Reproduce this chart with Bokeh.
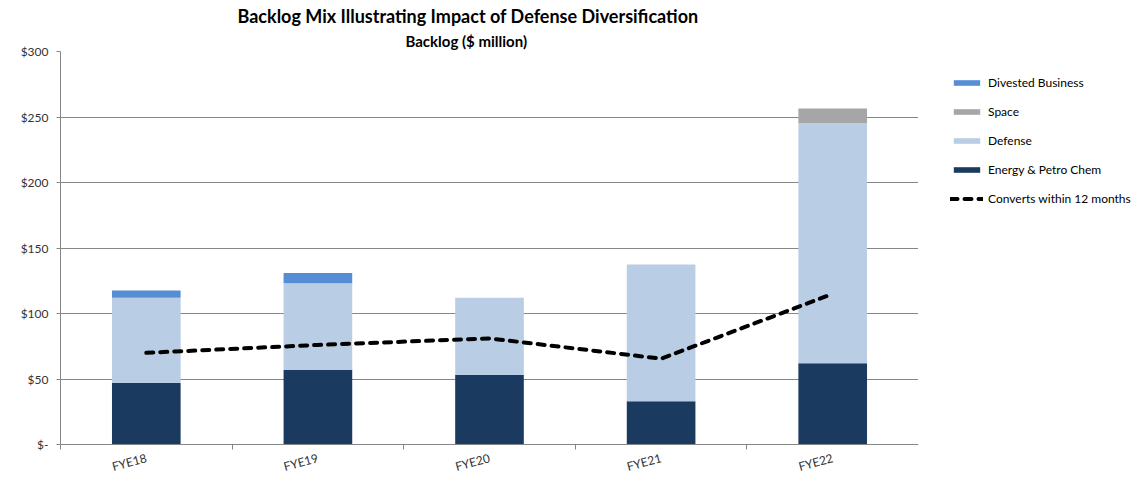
from bokeh.plotting import figure
from bokeh.layouts import row
from bokeh.models import (ColumnDataSource, FixedTicker, Range1d, Title,
                          Legend, LegendItem)
from bokeh.embed import file_html
from bokeh.resources import INLINE

categories = ["FYE18", "FYE19", "FYE20", "FYE21", "FYE22"]
energy = [47, 57, 53, 33, 62]
defense = [65, 66, 59, 104.5, 183.5]
space = [0, 0, 0, 0, 11]
divested = [5.5, 8, 0, 0, 0]
converts = [70, 76, 81, 65.5, 115]
y_ticks = [0, 50, 100, 150, 200, 250, 300]
y_tick_labels = ["$-", "$50", "$100", "$150", "$200", "$250", "$300"]
series_names = ["Energy & Petro Chem", "Defense", "Space", "Divested Business"]
series_colors = ["#1B3A5F", "#B9CDE5", "#A6A6A6", "#558ED5"]
line_name = "Converts within 12 months"

idx = list(range(len(categories)))
bounds = [i - 0.5 for i in range(len(categories) + 1)]

src = ColumnDataSource(dict(x=idx, energy=energy, defense=defense, space=space,
                            divested=divested, converts=converts))

FONT = "Lato"
TXT = "#333333"
GRID = "#868686"

p = figure(width=918, height=484, output_backend="svg", toolbar_location=None,
           x_range=Range1d(-0.5, len(categories) - 0.5), y_range=Range1d(0, 300),
           min_border_left=60, min_border_right=0, min_border_top=51, min_border_bottom=38,
           outline_line_color=None, background_fill_color="white")

rs = p.vbar_stack(["energy", "defense", "space", "divested"], x="x", width=0.4, source=src,
                  color=series_colors, line_color=None)
ln = p.line("x", "converts", source=src, line_color="black", line_width=4,
            line_dash="7 7", line_cap="round")

# y axis
yax = p.yaxis[0]
yax.ticker = FixedTicker(ticks=y_ticks)
yax.major_label_overrides = {t: l for t, l in zip(y_ticks, y_tick_labels)}
yax.axis_line_color = GRID
yax.major_tick_line_color = GRID
yax.major_tick_out = 4
yax.major_tick_in = 0
yax.minor_tick_line_color = None
yax.major_label_standoff = 8
yax.major_label_text_font = FONT
yax.major_label_text_font_size = "12px"
yax.major_label_text_color = TXT

p.ygrid.ticker = FixedTicker(ticks=y_ticks)
p.ygrid.grid_line_color = GRID
p.xgrid.visible = False

# x axis: labels at centres, boundary ticks as minor ticks
xax = p.xaxis[0]
xax.ticker = FixedTicker(ticks=idx, minor_ticks=bounds)
xax.major_label_overrides = {i: c for i, c in zip(idx, categories)}
xax.axis_line_color = GRID
xax.major_tick_line_color = None
xax.major_tick_out = 0
xax.major_tick_in = 0
xax.minor_tick_line_color = GRID
xax.minor_tick_out = 5
xax.minor_tick_in = 0
xax.major_label_orientation = 0.26
xax.major_label_standoff = 8
xax.major_label_text_font = FONT
xax.major_label_text_font_size = "12px"
xax.major_label_text_color = TXT

p.add_layout(Title(text="Backlog ($ million)", align="left", offset=345,
                   text_font=FONT, text_font_style="bold", text_font_size="15px",
                   text_color="black", standoff=4), "above")
p.add_layout(Title(text="Backlog Mix Illustrating Impact of Defense Diversification",
                   align="left", offset=177, text_font=FONT, text_font_style="bold",
                   text_font_size="18px", text_color="black", standoff=2), "above")

# legend panel (proxy glyphs placed outside the visible range)
lf = figure(width=228, height=484, output_backend="svg", toolbar_location=None,
            x_range=Range1d(0, 1), y_range=Range1d(0, 1), x_axis_location=None,
            y_axis_location=None, min_border_left=0, min_border_top=51,
            min_border_right=0, min_border_bottom=0, outline_line_color=None)
lf.grid.visible = False
proxy = ColumnDataSource(dict(x=[-10], top=[-10]))
dummies = [lf.vbar(x="x", top="top", width=0.1, source=proxy, color=c, line_color=None)
           for c in series_colors]
dl = lf.line(x="x", y="top", source=proxy, line_color="black", line_width=4,
             line_dash="7 7", line_cap="round")
items = [LegendItem(label=series_names[i], renderers=[dummies[i]]) for i in (3, 2, 1, 0)]
items.append(LegendItem(label=line_name, renderers=[dl]))
legend = Legend(items=items, location=(32, 238), glyph_width=33, glyph_height=7,
                label_height=14, label_standoff=5, spacing=14, padding=0, margin=0,
                border_line_color=None, background_fill_alpha=0,
                label_text_font=FONT, label_text_font_size="12px", label_text_color="black")
lf.add_layout(legend, "center")

layout = row(p, lf)
open("out.html", "w").write(file_html(layout, INLINE))
